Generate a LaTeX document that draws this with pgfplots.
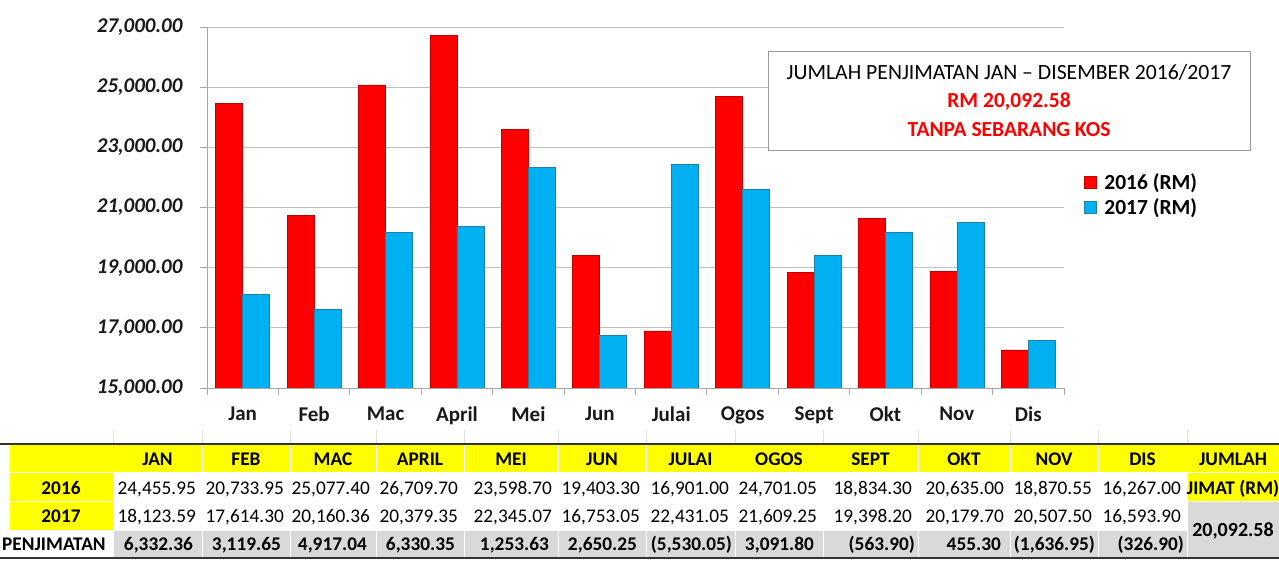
\documentclass[border=0pt]{standalone}
\usepackage{pgfplots}
\pgfplotsset{compat=1.18}
\usepackage{fontspec}
\setmainfont{Carlito}
\definecolor{myred}{HTML}{FF0000}
\definecolor{myblue}{HTML}{00B0F0}
\definecolor{rededge}{HTML}{C00000}
\definecolor{blueedge}{HTML}{1F7FA6}
\definecolor{tabyellow}{HTML}{FFFF00}
\definecolor{tabgray}{HTML}{D9D9D9}
\definecolor{axgray}{HTML}{A6A6A6}
\definecolor{gridgray}{HTML}{BFBFBF}
\newcommand{\tf}{\fontsize{19.3}{22}\selectfont}
\begin{document}
\begin{tikzpicture}[x=1pt,y=1pt]
\path[use as bounding box] (0,0) rectangle (1279,561);
\begin{axis}[
  at={(207pt,173pt)}, anchor=south west,
  scale only axis, width=857pt, height=361pt,
  ymin=15000, ymax=27000, xmin=-0.5, xmax=11.5,
  ytick={15000,17000,...,27000},
  xtick={0,...,11},
  xticklabels={Jan,Feb,Mac,April,Mei,Jun,Julai,Ogos,Sept,Okt,Nov,Dis},
  minor xtick={-0.5,0.5,...,11.5},
  axis x line*=bottom, axis y line*=left,
  axis line style={draw=axgray, line width=0.9pt, -},
  ymajorgrids, grid style={draw=gridgray, line width=0.9pt},
  tick align=outside, major tick length=7pt, minor tick length=7pt,
  major x tick style={draw=none},
  minor x tick style={draw=axgray, line width=0.9pt},
  ytick style={draw=axgray, line width=0.9pt},
  tick label style={font=\fontsize{21}{24}\selectfont\bfseries, text=black!90},
  yticklabel style={font=\fontsize{21}{24}\selectfont\bfseries\itshape, xshift=-14pt,
    /pgf/number format/.cd, fixed, fixed zerofill, precision=2, 1000 sep={,}, assume math mode=true},
  xticklabel style={yshift=-8pt},
  scaled y ticks=false,
  ybar, bar width=27pt,
  legend image code/.code={\draw[#1, line width=0.5pt] (0pt,-6pt) rectangle (12pt,6pt);},
  legend style={draw=none, fill=none, at={(1.023,0.60)}, anchor=north west,
    font=\fontsize{21.5}{24}\selectfont\bfseries, inner sep=0pt, row sep=3pt,
    /tikz/every odd column/.append style={column sep=6pt},
    legend cell align=left},
]
\addplot[fill=myred, draw=rededge, line width=0.6pt, bar shift=-13.5pt] coordinates {
 (0,24455.95) (1,20733.95) (2,25077.40) (3,26709.70) (4,23598.70) (5,19403.30)
 (6,16901.00) (7,24701.05) (8,18834.30) (9,20635.00) (10,18870.55) (11,16267.00)};
\addlegendentry{2016 (RM)}
\addplot[fill=myblue, draw=blueedge, line width=0.6pt, bar shift=13.5pt] coordinates {
 (0,18123.59) (1,17614.30) (2,20160.36) (3,20379.35) (4,22345.07) (5,16753.05)
 (6,22431.05) (7,21609.25) (8,19398.20) (9,20179.70) (10,20507.50) (11,16593.90)};
\addlegendentry{2017 (RM)}
\end{axis}
% annotation box
\node[draw=gray!80, line width=0.9pt, fill=white, minimum width=482pt, minimum height=99pt, inner sep=0pt] at (1009,460.5) {};
\node[font=\fontsize{21.7}{24}\selectfont] at (1009,489) {JUMLAH PENJIMATAN JAN – DISEMBER 2016/2017};
\node[font=\fontsize{21.5}{24}\selectfont\bfseries, text=myred] at (1009,459) {RM 20,092.58};
\node[font=\fontsize{21.5}{24}\selectfont\bfseries, text=myred] at (1009,431) {TANPA SEBARANG KOS};
% table: faint column lines above
\foreach \xx in {113,202,290,376,464,558,646,735,823,918,1010,1098,1187}
  \draw[gray!25, line width=0.8pt] (\xx,118) -- (\xx,131);
% label column
\fill[tabyellow] (10,88.5) rectangle (112.5,116);
\fill[tabyellow] (10,59.5) rectangle (112.5,87.5);
\fill[tabyellow] (10,30.5) rectangle (112.5,58.5);
% jumlah column
\fill[tabyellow] (1187.5,88.5) rectangle (1279,116);
\fill[tabyellow] (1187.5,59.5) rectangle (1279,87.5);
\fill[tabgray] (1187.5,3) rectangle (1279,58.5);
\node[font=\tf\bfseries, anchor=base] at (61,66.5) {2016};
\node[font=\tf\bfseries, anchor=base] at (61,38.5) {2017};
\node[font=\tf\bfseries, anchor=base west, inner sep=0pt] at (2,10.5) {PENJIMATAN};
\node[font=\tf\bfseries, anchor=base] at (1233,95.5) {JUMLAH};
\node[font=\tf\bfseries, anchor=base] at (1233,66.5) {JIMAT (RM)};
\node[font=\fontsize{20}{24}\selectfont\bfseries, anchor=base] at (1233,24) {20,092.58};
\foreach \l/\r/\m/\a/\b/\c/\p in {
  113/202/JAN/{24,455.95}/{18,123.59}/{6,332.36}/9,
  202/290/FEB/{20,733.95}/{17,614.30}/{3,119.65}/9,
  290/376/MAC/{25,077.40}/{20,160.36}/{4,917.04}/9,
  376/464/APRIL/{26,709.70}/{20,379.35}/{6,330.35}/9,
  464/558/MEI/{23,598.70}/{22,345.07}/{1,253.63}/9,
  558/646/JUN/{19,403.30}/{16,753.05}/{2,650.25}/9,
  646/735/JULAI/{16,901.00}/{22,431.05}/{(5,530.05)}/3,
  735/823/OGOS/{24,701.05}/{21,609.25}/{3,091.80}/9,
  823/918/SEPT/{18,834.30}/{19,398.20}/{(563.90)}/3,
  918/1010/OKT/{20,635.00}/{20,179.70}/{455.30}/9,
  1010/1098/NOV/{18,870.55}/{20,507.50}/{(1,636.95)}/3,
  1098/1187/DIS/{16,267.00}/{16,593.90}/{(326.90)}/3}{
  \fill[tabyellow] (\l+0.5,88.5) rectangle (\r-0.5,116);
  \fill[tabgray] (\l+0.5,3) rectangle (\r-0.5,30);
  \node[font=\tf\bfseries, anchor=base] at ({(\l+\r)/2},95.5) {\m};
  \node[font=\tf, anchor=base east, inner sep=0pt] at (\r-6,66.5) {\a};
  \node[font=\tf, anchor=base east, inner sep=0pt] at (\r-6,38.5) {\b};
  \node[font=\tf\bfseries, anchor=base east, inner sep=0pt] at (\r-\p,10.5) {\c};
}
\draw[black!80, line width=1.8pt] (0,117) -- (1279,117);
\draw[black!80, line width=1.8pt] (0,3) -- (1279,3);
\end{tikzpicture}
\end{document}
